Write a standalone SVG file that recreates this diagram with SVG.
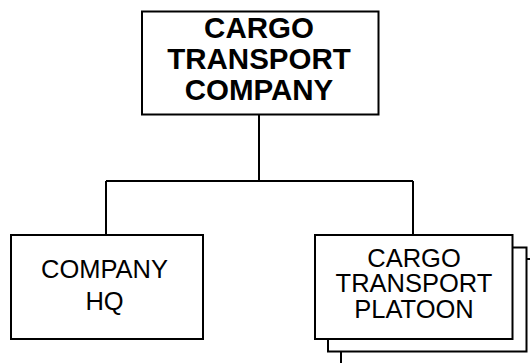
<svg xmlns="http://www.w3.org/2000/svg" width="530" height="363" viewBox="0 0 530 363">
<style>
.box{fill:#fff;stroke:#000;stroke-width:2}
.ln{fill:none;stroke:#000;stroke-width:2}
.t{font-family:"Liberation Sans",Arial,sans-serif;text-anchor:middle;fill:#000}
.b{font-weight:bold;font-size:29.5px}
.r{font-size:25.5px}
</style>
<rect width="530" height="363" fill="#fff"/>
<g id="connectors">
<path class="ln" d="M259 114.5V181M106 181H413M106 181V235M413 181V235"/>
</g>
<g id="company">
<rect class="box" x="142" y="11.5" width="236.5" height="103"/>
<text class="t b" x="259" y="37.5">CARGO</text>
<text class="t b" x="259" y="68.5">TRANSPORT</text>
<text class="t b" x="259" y="99.5">COMPANY</text>
</g>
<g id="hq">
<rect class="box" x="11" y="235" width="192" height="104"/>
<text class="t r" x="104.5" y="277.5">COMPANY</text>
<text class="t r" x="104.5" y="309.5">HQ</text>
</g>
<g id="platoon">
<rect class="box" x="341" y="259" width="200" height="110"/>
<rect class="box" x="328" y="247.5" width="198.5" height="104"/>
<rect class="box" x="315" y="235" width="197.5" height="104"/>
<text class="t r" x="414" y="266.5">CARGO</text>
<text class="t r" x="414" y="292">TRANSPORT</text>
<text class="t r" x="414" y="318">PLATOON</text>
</g>
</svg>
